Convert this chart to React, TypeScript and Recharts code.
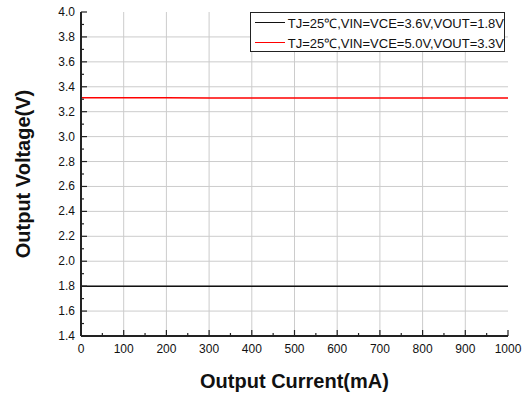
import { Label, Line, LineChart, ReferenceLine, XAxis, YAxis } from "recharts";

const currents = [0, 100, 200, 300, 400, 500, 600, 700, 800, 900, 1000];
const vout18 = [1.8, 1.8, 1.8, 1.8, 1.8, 1.8, 1.8, 1.8, 1.8, 1.8, 1.8];
const vout33 = [3.311, 3.311, 3.311, 3.31, 3.309, 3.309, 3.309, 3.309, 3.309, 3.309, 3.309];

const xTicks = [0, 50, 100, 150, 200, 250, 300, 350, 400, 450, 500, 550, 600, 650, 700, 750, 800, 850, 900, 950, 1000];
const xGrid = [100, 200, 300, 400, 500, 600, 700, 800, 900];
const yTicks = [1.4, 1.5, 1.6, 1.7, 1.8, 1.9, 2.0, 2.1, 2.2, 2.3, 2.4, 2.5, 2.6, 2.7, 2.8, 2.9, 3.0, 3.1, 3.2, 3.3, 3.4, 3.5, 3.6, 3.7, 3.8, 3.9, 4.0];
const yGrid = [1.6, 1.8, 2.0, 2.2, 2.4, 2.6, 2.8, 3.0, 3.2, 3.4, 3.6, 3.8];

const seriesNames = ["TJ=25℃,VIN=VCE=3.6V,VOUT=1.8V", "TJ=25℃,VIN=VCE=5.0V,VOUT=3.3V"];
const seriesColors = ["#111111", "#ff0000"];

const data = currents.map((c, i) => ({ current: c, a: vout18[i], b: vout33[i] }));

const font = "'Liberation Sans', Arial, sans-serif";
const axisColor = "#222";
const gridColor = "#cccccc";

const isMajorX = (v: number) => v % 100 === 0;
const isMajorY = (v: number) => Math.round(v * 10) % 2 === 0;

function BottomTick({ x, y, payload }: any) {
  const major = isMajorX(payload.value);
  return (
    <g>
      <line x1={x} x2={x} y1={y} y2={y - (major ? 6 : 3)} stroke={axisColor} strokeWidth={1.2} />
      {major && (
        <text x={x} y={y + 17} textAnchor="middle" fontSize={12} fill="#111" fontFamily={font}>
          {String(payload.value)}
        </text>
      )}
    </g>
  );
}

function TopTick({ x, y, payload }: any) {
  const major = isMajorX(payload.value);
  return <line x1={x} x2={x} y1={y} y2={y + (major ? 6 : 3)} stroke={axisColor} strokeWidth={1} />;
}

function LeftTick({ x, y, payload }: any) {
  const major = isMajorY(payload.value);
  return (
    <g>
      <line x1={x} x2={x + (major ? 6 : 3)} y1={y} y2={y} stroke={axisColor} strokeWidth={1.2} />
      {major && (
        <text x={x - 6} y={y + 4} textAnchor="end" fontSize={12} fill="#111" fontFamily={font}>
          {payload.value.toFixed(1)}
        </text>
      )}
    </g>
  );
}

function RightTick({ x, y, payload }: any) {
  const major = isMajorY(payload.value);
  return <line x1={x} x2={x - (major ? 6 : 3)} y1={y} y2={y} stroke={axisColor} strokeWidth={1} />;
}

function LegendBox() {
  return (
    <div
      style={{
        position: "absolute",
        left: 250,
        top: 12,
        width: 253,
        height: 38,
        border: "1px solid #222",
        background: "#fff",
        fontFamily: font,
        fontSize: 13,
        color: "#111",
        boxSizing: "content-box",
      }}
    >
      {seriesNames.map((name, i) => (
        <div key={name} style={{ display: "flex", alignItems: "center", height: 19, marginTop: i === 0 ? 0 : 1 }}>
          <div style={{ width: 30, height: 0, borderTop: `1.5px solid ${seriesColors[i]}`, marginLeft: 4, marginRight: 3 }} />
          <span style={{ whiteSpace: "nowrap" }}>{name}</span>
        </div>
      ))}
    </div>
  );
}

export default function App() {
  return (
    <div style={{ position: "fixed", left: 0, top: 0, width: 522, height: 399, background: "#fff" }}>
      <LineChart width={522} height={399} data={data} margin={{ top: 12, right: 14, left: 8, bottom: 0 }}>
        {xGrid.map((v) => (
          <ReferenceLine key={`gx${v}`} x={v} stroke={gridColor} strokeWidth={1} />
        ))}
        {yGrid.map((v) => (
          <ReferenceLine key={`gy${v}`} y={v} stroke={gridColor} strokeWidth={1} />
        ))}
        <XAxis
          dataKey="current"
          type="number"
          domain={[0, 1000]}
          ticks={xTicks}
          interval={0}
          height={63}
          tickSize={0}
          tickMargin={0}
          tickLine={false}
          axisLine={{ stroke: axisColor, strokeWidth: 2 }}
          tick={(p: any) => <BottomTick {...p} />}
        >
          <Label value="Output Current(mA)" position="center" dy={13} fontSize={20} fontWeight="bold" fill="#111" fontFamily={font} />
        </XAxis>
        <XAxis
          xAxisId="top"
          orientation="top"
          dataKey="current"
          type="number"
          domain={[0, 1000]}
          ticks={xTicks}
          interval={0}
          height={0}
          tickSize={0}
          tickMargin={0}
          tickLine={false}
          axisLine={{ stroke: axisColor, strokeWidth: 1 }}
          tick={(p: any) => <TopTick {...p} />}
        />
        <YAxis
          type="number"
          domain={[1.4, 4.0]}
          ticks={yTicks}
          interval={0}
          width={73}
          tickSize={0}
          tickMargin={0}
          tickLine={false}
          axisLine={{ stroke: axisColor, strokeWidth: 2 }}
          tick={(p: any) => <LeftTick {...p} />}
        >
          <Label value="Output Voltage(V)" position="center" angle={-90} dx={-22} fontSize={20} fontWeight="bold" fill="#111" fontFamily={font} />
        </YAxis>
        <YAxis
          yAxisId="right"
          orientation="right"
          type="number"
          domain={[1.4, 4.0]}
          ticks={yTicks}
          interval={0}
          width={0}
          tickSize={0}
          tickMargin={0}
          tickLine={false}
          axisLine={{ stroke: axisColor, strokeWidth: 1.5 }}
          tick={(p: any) => <RightTick {...p} />}
        />
        <Line dataKey="a" name={seriesNames[0]} stroke={seriesColors[0]} strokeWidth={1.5} dot={false} isAnimationActive={false} />
        <Line dataKey="b" name={seriesNames[1]} stroke={seriesColors[1]} strokeWidth={1.5} dot={false} isAnimationActive={false} />
      </LineChart>
      <LegendBox />
    </div>
  );
}
